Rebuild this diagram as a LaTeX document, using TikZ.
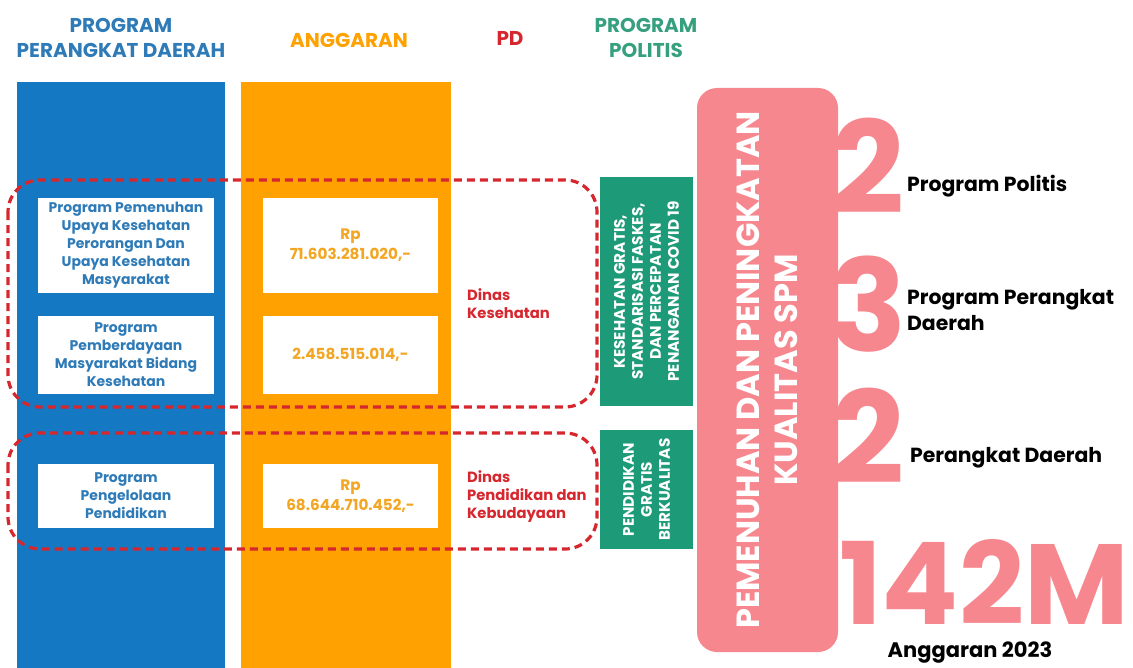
\documentclass[tikz,border=0pt]{standalone}
\usepackage{fontspec}
\setmainfont{Poppins}
\definecolor{progblue}{RGB}{20,121,194}
\definecolor{hdrblue}{RGB}{47,123,184}
\definecolor{budget}{RGB}{255,161,0}
\definecolor{budgettext}{RGB}{242,166,35}
\definecolor{pdred}{RGB}{214,38,46}
\definecolor{polgreen}{RGB}{29,154,120}
\definecolor{hdrgreen}{RGB}{54,160,126}
\definecolor{spmpink}{RGB}{247,135,143}
\begin{document}
\begin{tikzpicture}[x=0.5pt, y=-0.5pt,
  hdr/.style={font=\bfseries\fontsize{10}{12.5}\selectfont, align=center},
  wbox/.style={fill=white, align=center, inner sep=1pt,
    font=\bfseries\fontsize{7}{9}\selectfont},
  gbox/.style={fill=polgreen, text=white, align=center, inner sep=1pt,
    font=\bfseries\fontsize{7.6}{9}\selectfont},
  pdgroup/.style={draw=pdred, line width=1.6pt, dash pattern=on 4pt off 2.5pt, rounded corners=16pt},
  pdlabel/.style={text=pdred, anchor=west, align=left, font=\bfseries\fontsize{7.4}{9}\selectfont},
  bignum/.style={text=spmpink, font=\bfseries\fontsize{64}{64}\selectfont},
  numlabel/.style={anchor=west, align=left, font=\bfseries\fontsize{10.2}{13}\selectfont}]
  \useasboundingbox (0,0) rectangle (1133,668);
  % headers
  \node[hdr, text=hdrblue] (h-prog) at (121,38) {PROGRAM\\PERANGKAT DAERAH};
  \node[hdr, text=budget] (h-angg) at (349,40) {ANGGARAN};
  \node[hdr, text=pdred] (h-pd) at (510,38) {PD};
  \node[hdr, text=hdrgreen] (h-pol) at (646,38) {PROGRAM\\POLITIS};
  % columns
  \fill[progblue] (17,82) rectangle (225,668);
  \fill[budget] (241,82) rectangle (451,668);
  % program boxes
  \node[wbox, text=hdrblue, minimum width=88pt, minimum height=47.5pt] (pp1) at (126,245.5)
    {Program Pemenuhan\\Upaya Kesehatan\\Perorangan Dan\\Upaya Kesehatan\\Masyarakat};
  \node[wbox, text=hdrblue, minimum width=88pt, minimum height=39pt] (pp2) at (126,355)
    {Program\\Pemberdayaan\\Masyarakat Bidang\\Kesehatan};
  \node[wbox, text=hdrblue, minimum width=88pt, minimum height=32pt] (pp3) at (126,496)
    {Program\\Pengelolaan\\Pendidikan};
  % budget boxes
  \node[wbox, text=budgettext, font=\bfseries\fontsize{7.6}{10}\selectfont,
    minimum width=87.5pt, minimum height=47.5pt] (ag1) at (350.5,245.5) {Rp\\71.603.281.020,-};
  \node[wbox, text=budgettext, font=\bfseries\fontsize{7.6}{10}\selectfont,
    minimum width=87.5pt, minimum height=39pt] (ag2) at (350.5,355) {2.458.515.014,-};
  \node[wbox, text=budgettext, font=\bfseries\fontsize{7.6}{10}\selectfont,
    minimum width=87.5pt, minimum height=32pt] (ag3) at (350.5,496) {Rp\\68.644.710.452,-};
  % dinas groups
  \draw[pdgroup] (8,180) rectangle (597,407);
  \draw[pdgroup] (8,433) rectangle (597,549);
  \node[pdlabel] (pd1) at (460,304) {Dinas\\Kesehatan};
  \node[pdlabel] (pd2) at (460,497) {Dinas\\Pendidikan dan\\Kebudayaan};
  % program politis
  \node[gbox, minimum width=114.5pt, minimum height=46.5pt, rotate=90] (gp1) at (646.5,291.5)
    {KESEHATAN GRATIS,\\STANDARISASI FASKES,\\DAN PERCEPATAN\\PENANGANAN COVID 19};
  \node[gbox, minimum width=59.5pt, minimum height=46.5pt, rotate=90] (gp2) at (646.5,489.5)
    {PENDIDIKAN\\GRATIS\\BERKUALITAS};
  % SPM bar
  \node[fill=spmpink, rounded corners=10pt, minimum width=282pt, minimum height=70.5pt,
    rotate=90, text=white, align=center, font=\bfseries\fontsize{16}{19}\selectfont] (spm) at (767.5,370)
    {PEMENUHAN DAN PENINGKATAN\\KUALITAS SPM};
  % totals
  \node[bignum] (n-pol) at (868,166) {2};
  \node[bignum] (n-prog) at (868,304) {3};
  \node[bignum] (n-pd) at (868,436) {2};
  \node[numlabel] (l-pol) at (900,186) {Program Politis};
  \node[numlabel] (l-prog) at (900,310) {Program Perangkat\\Daerah};
  \node[numlabel] (l-pd) at (903,458) {Perangkat Daerah};
  \node[text=spmpink, inner sep=0pt, font=\bfseries\fontsize{57}{57}\selectfont] (total) at (984,582) {142M};
  \node[inner sep=0pt, font=\bfseries\fontsize{10.5}{12}\selectfont] (l-total) at (970,653) {Anggaran 2023};
\end{tikzpicture}
\end{document}
